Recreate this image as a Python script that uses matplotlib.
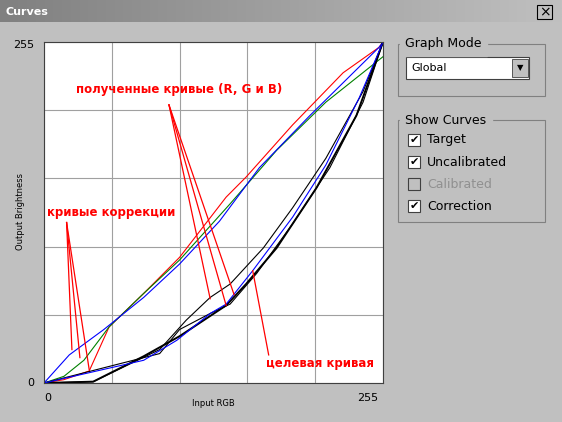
import matplotlib.pyplot as plt
from matplotlib.patches import Rectangle
from matplotlib.colors import LinearSegmentedColormap
import numpy as np

# uncalibrated curves (data 0..255)
red_x = [0, 15, 34, 49, 75, 102, 137, 152, 187, 225, 252, 255]
red_y = [0, 2.5, 9, 42, 67, 94, 139, 154, 193, 232, 251, 255]
green_x = [0, 15, 30, 49, 75, 102, 140, 175, 212, 255]
green_y = [0, 5, 17, 42, 67, 92, 134, 174, 210, 244]
blue_x = [0, 19, 45, 75, 102, 132, 162, 200, 252, 255]
blue_y = [0, 21, 40, 64, 89, 121, 161, 200, 251, 255]

# target / calibrated black and blue curves
tgt_x = [0, 37, 75, 102, 137, 152, 175, 205, 235, 255]
tgt_y = [0, 1, 20, 35, 58, 74, 101, 146, 200, 255]
blk1_x = [0, 37, 87, 107, 125, 140, 165, 187, 212, 240, 255]
blk1_y = [0, 1, 25, 47, 64, 74, 101, 131, 168, 218, 255]
blk2_x = [0, 87, 102, 125, 140, 160, 187, 215, 240, 255]
blk2_y = [0, 22, 40, 52, 59, 82, 119, 161, 210, 255]
blue2_x = [0, 75, 100, 125, 137, 157, 187, 212, 237, 255]
blue2_y = [0, 17, 32, 52, 59, 84, 124, 163, 213, 255]

W, H = 562, 422
BG = '#c0c0c0'
fig = plt.figure(figsize=(W / 100, H / 100), dpi=100, facecolor=BG)

# chrome overlay in pixel coords
ui = fig.add_axes([0, 0, 1, 1])
ui.axis('off')
grad = np.linspace(0, 1, 256).reshape(1, -1)
ui.imshow(grad, extent=(0, W, 22, 0), aspect='auto',
          cmap=LinearSegmentedColormap.from_list('t', ['#808080', '#c0c0c0']))
ui.set_xlim(0, W)
ui.set_ylim(H, 0)
ui.text(6, 12, 'Curves', color='white', fontsize=8, fontweight='bold', va='center')
ui.add_patch(Rectangle((537, 5), 15, 14, facecolor=BG, edgecolor='black', lw=0.8))
ui.text(544.5, 12, '×', fontsize=10, ha='center', va='center')

# group boxes
ui.add_patch(Rectangle((398, 44), 147, 52, fill=False, edgecolor='#808080', lw=0.8))
ui.text(405, 44, 'Graph Mode', fontsize=9, va='center', backgroundcolor=BG)
ui.add_patch(Rectangle((406, 57), 123, 22, facecolor='white', edgecolor='#404040', lw=0.8))
ui.text(411, 68, 'Global', fontsize=8, va='center')
ui.add_patch(Rectangle((512, 59), 16, 18, facecolor=BG, edgecolor='#404040', lw=0.6))
ui.text(520, 68, '▼', fontsize=6, ha='center', va='center')

ui.add_patch(Rectangle((398, 120), 147, 102, fill=False, edgecolor='#808080', lw=0.8))
ui.text(405, 120, 'Show Curves', fontsize=9, va='center', backgroundcolor=BG)
checks = ['Target', 'Uncalibrated', 'Calibrated', 'Correction']
checked = [True, True, False, True]
for i, (lab, on) in enumerate(zip(checks, checked)):
    y = 140 + i * 22
    col = 'black' if on else '#909090'
    ui.add_patch(Rectangle((408, y - 6), 12, 12, facecolor='white' if on else BG, edgecolor='#404040', lw=0.8))
    if on:
        ui.text(414, y, '✔', fontsize=8, ha='center', va='center')
    ui.text(427, y, lab, fontsize=9, va='center', color=col)

# axis labels
ui.text(34, 45, '255', fontsize=8, ha='right', va='center')
ui.text(34, 383, '0', fontsize=8, ha='right', va='center')
ui.text(48, 398, '0', fontsize=8, ha='center', va='center')
ui.text(368, 398, '255', fontsize=8, ha='center', va='center')
ui.text(213, 404, 'Input RGB', fontsize=6, ha='center', va='center')
ui.text(21, 212, 'Output Brightness', fontsize=6, ha='center', va='center', rotation=90)

# plot area
ax = fig.add_axes([44 / W, 1 - 383 / H, 339 / W, 341 / H])
ax.set_xlim(0, 255)
ax.set_ylim(0, 255)
ax.set_facecolor('white')
ax.set_xticks(np.linspace(0, 255, 6))
ax.set_yticks(np.linspace(0, 255, 6))
ax.tick_params(length=0, labelbottom=False, labelleft=False)
ax.grid(True, color='#a0a0a0', lw=0.8)
for s in ax.spines.values():
    s.set_color('#404040')

for x, y, c, w in [(red_x, red_y, 'red', 0.8), (green_x, green_y, 'green', 0.8), (blue_x, blue_y, 'blue', 0.8),
                   (tgt_x, tgt_y, 'black', 1.4), (blk1_x, blk1_y, 'black', 0.8), (blk2_x, blk2_y, 'black', 0.8),
                   (blue2_x, blue2_y, 'blue', 0.8)]:
    ax.plot(x, y, color=c, lw=w)

# annotations
ax.text(24, 217, 'полученные кривые (R, G и B)', color='red', fontsize=8.5, fontweight='bold')
for tx, ty in [(125, 63), (137, 58), (143, 66)]:
    ax.plot([94, tx], [208, ty], color='red', lw=0.9)
ax.text(2, 125, 'кривые коррекции', color='red', fontsize=8.5, fontweight='bold')
for tx, ty in [(21, 25), (27, 19), (34, 10)]:
    ax.plot([17, tx], [120, ty], color='red', lw=0.9)
ax.text(167, 12, 'целевая кривая', color='red', fontsize=8.5, fontweight='bold')
ax.plot([157, 169], [84, 21], color='red', lw=0.9)

fig.savefig('out.png', dpi=100, facecolor=BG)
